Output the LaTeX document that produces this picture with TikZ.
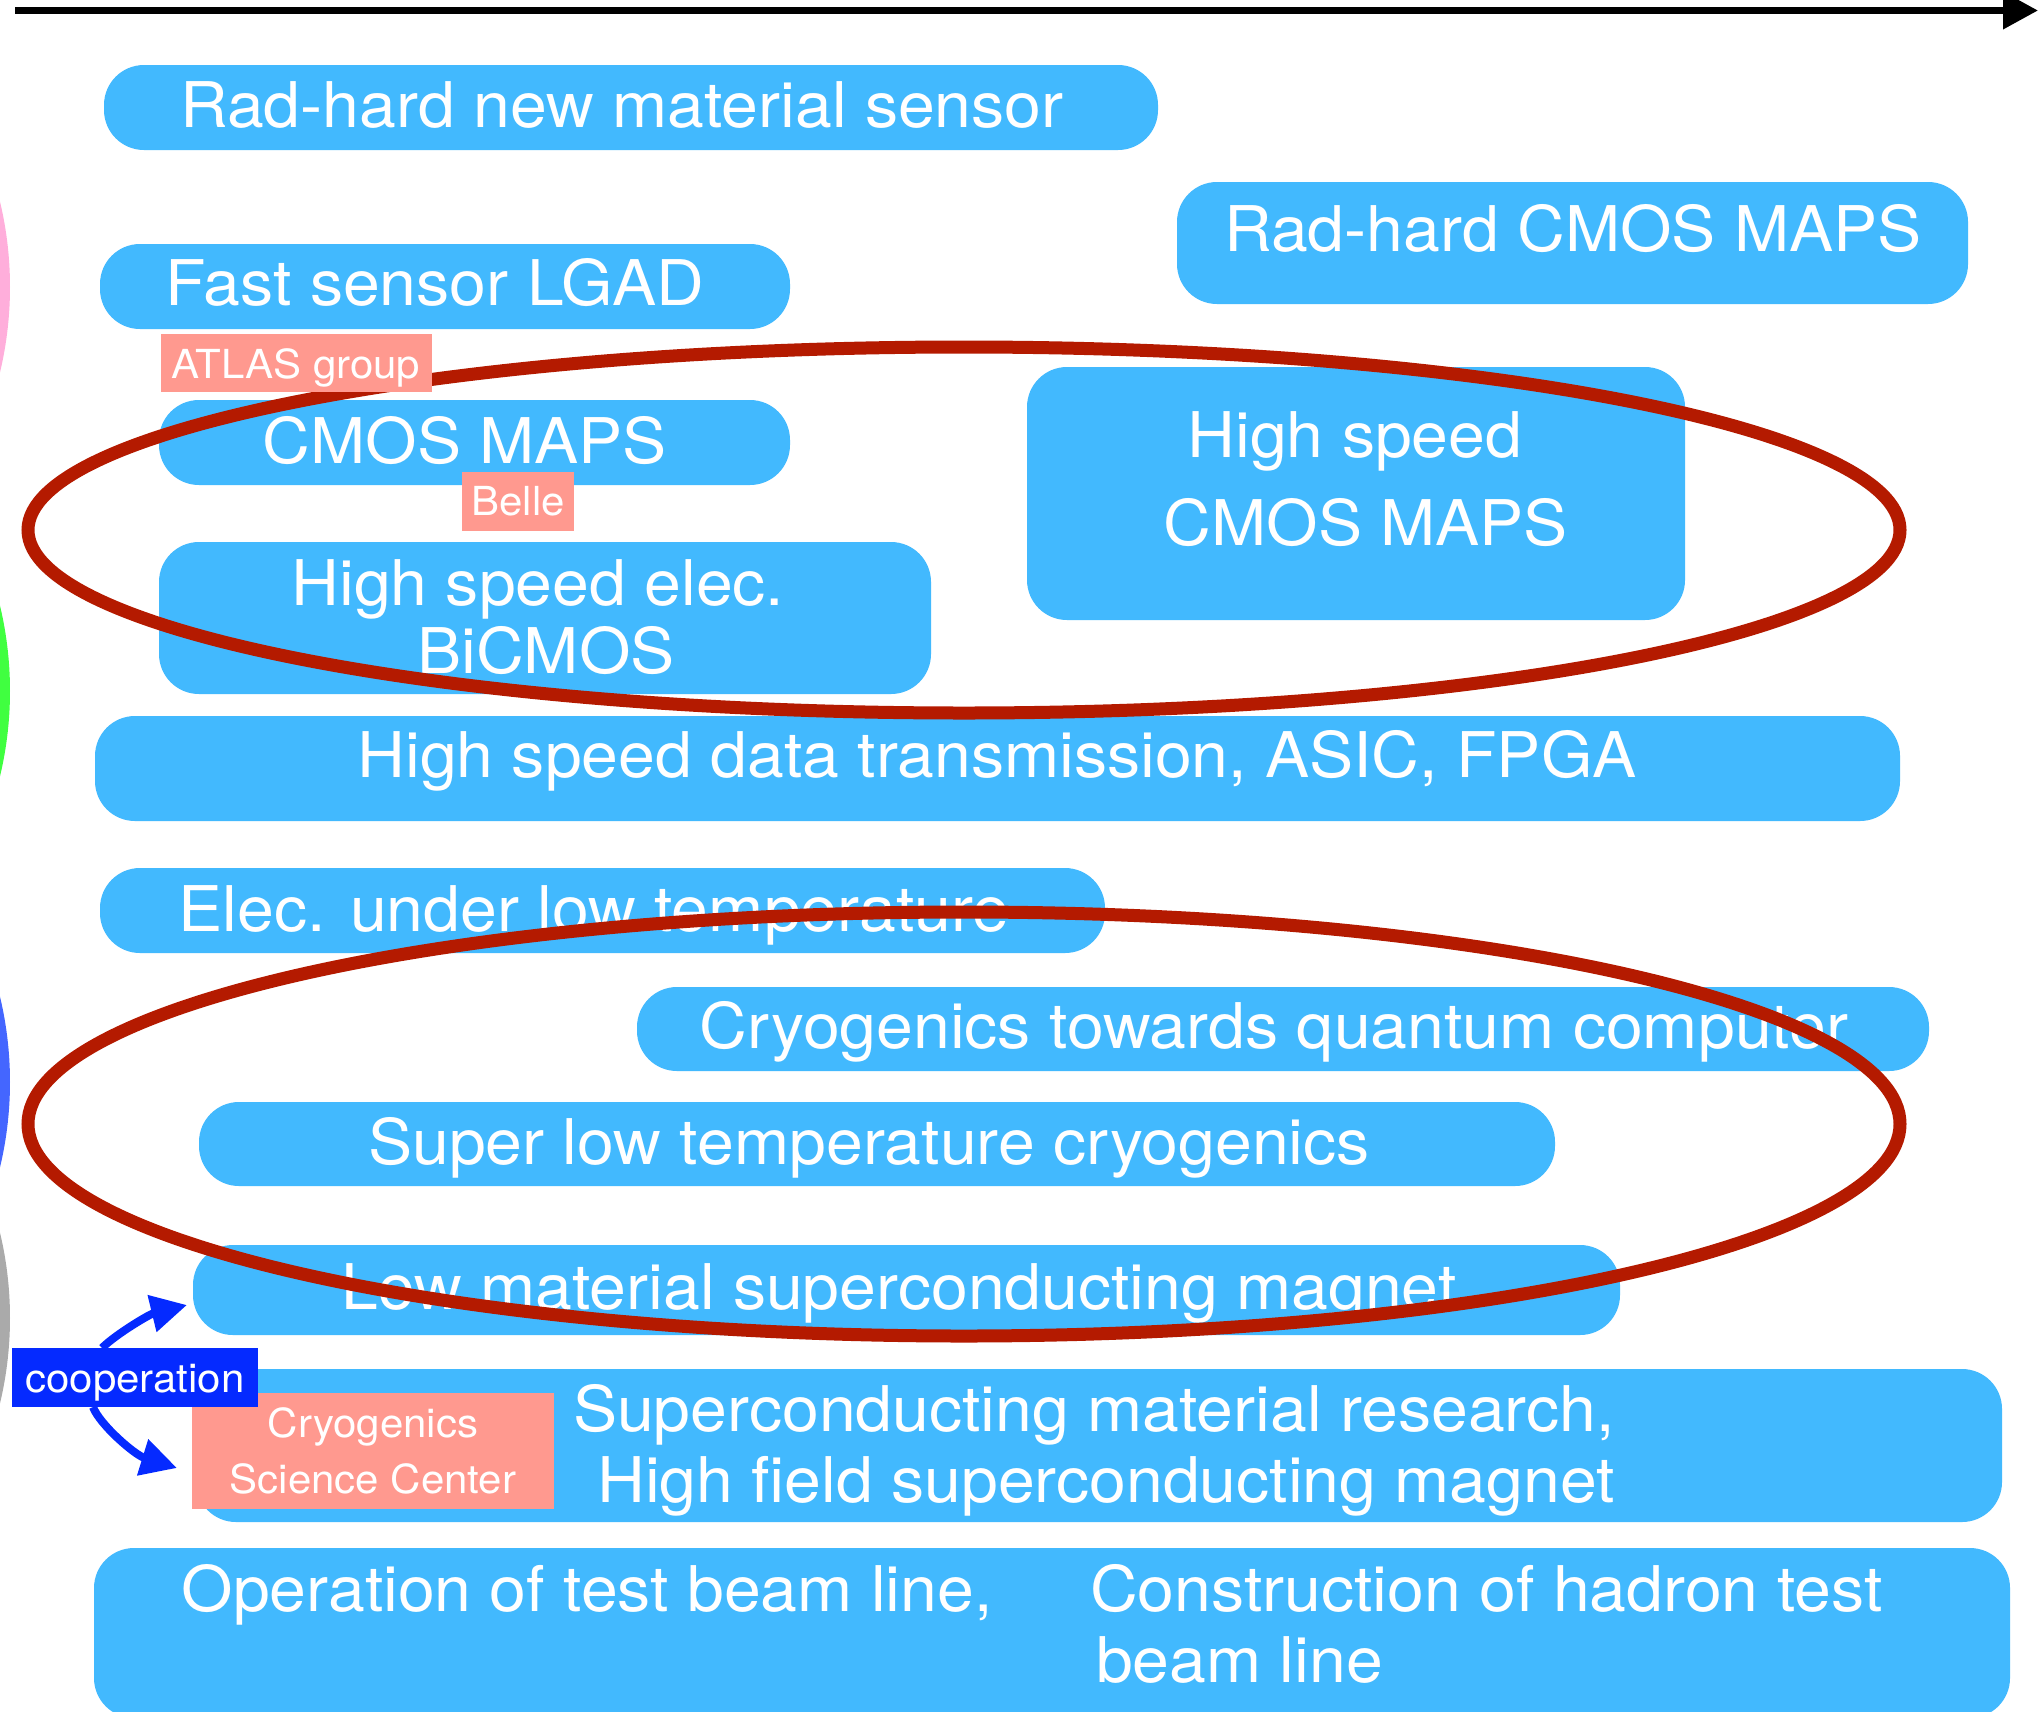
\documentclass[tikz,border=0pt]{standalone}
\usepackage{fontspec}
\setmainfont{TeX Gyre Heros}[FakeStretch=1.05]
\usetikzlibrary{arrows.meta}
\definecolor{boxblue}{RGB}{66,185,254}
\definecolor{tagsalmon}{RGB}{255,153,143}
\definecolor{coopblue}{RGB}{5,42,255}
\definecolor{ellred}{RGB}{180,26,0}
\definecolor{arcpink}{RGB}{255,174,219}
\definecolor{arcgreen}{RGB}{64,255,64}
\definecolor{arcblue}{RGB}{68,102,255}
\definecolor{arcgray}{RGB}{170,170,170}
\begin{document}
\begin{tikzpicture}[x=1pt,y=-1pt,
  box/.style={fill=boxblue, draw=none, rounded corners=40pt, anchor=north west, inner sep=0pt, outer sep=0pt},
  tag/.style={fill=tagsalmon, draw=none, anchor=north west, inner sep=0pt, outer sep=0pt},
  big/.style={text=white, font=\fontsize{63}{70}\selectfont, anchor=base, inner sep=0pt},
  small/.style={text=white, font=\fontsize{40}{48}\selectfont, anchor=base, inner sep=0pt},
  ring/.style={draw=ellred, line width=13pt},
  coopArrow/.style={draw=coopblue, line width=8pt, -{Triangle[length=36pt,width=36pt]}}
]
\clip (0,0) rectangle (2044,1711);
\fill[white] (0,0) rectangle (2044,1711);

% left coloured arcs
\fill[arcpink]  (-356,287)  circle[radius=366pt];
\fill[arcgreen] (-356,691)  circle[radius=366pt];
\fill[arcblue]  (-356,1082) circle[radius=366pt];
\fill[arcgray]  (-356,1318) circle[radius=366pt];

% time arrow
\coordinate (tl) at (15,10.5);
\coordinate (tr) at (2038,10.5);
\draw[line width=7pt, -{Triangle[length=35pt,width=36pt]}] (tl) -- (tr);

% boxes
\node[box, minimum width=1054pt, minimum height=85pt] (radnew) at (104,65) {};
\node[box, minimum width=791pt, minimum height=122pt] (radcmos) at (1177,182) {};
\node[box, minimum width=690pt, minimum height=85pt] (lgad) at (100,244) {};
\node[box, minimum width=631pt, minimum height=85pt] (cmos) at (159,400) {};
\node[box, minimum width=658pt, minimum height=253pt] (hscmos) at (1027,367) {};
\node[box, minimum width=772pt, minimum height=152pt] (bicmos) at (159,542) {};
\node[box, minimum width=1805pt, minimum height=105pt] (hsdata) at (95,716) {};
\node[box, minimum width=1005pt, minimum height=85pt] (elec) at (100,868) {};
\node[box, minimum width=1292pt, minimum height=84pt] (cryoq) at (637,987) {};
\node[box, minimum width=1356pt, minimum height=84pt] (superlow) at (199,1102) {};
\node[box, minimum width=1427pt, minimum height=90pt] (lowmat) at (193,1245) {};
\node[box, minimum width=1806pt, minimum height=153pt] (supercond) at (196,1369) {};
\node[box, minimum width=1916pt, minimum height=170pt] (operation) at (94,1548) {};

% texts
\node[big] (t1) at (622,127) {Rad-hard new material sensor};
\node[big] (t2) at (1573,251) {Rad-hard CMOS MAPS};
\node[big] (t3) at (435,305) {Fast sensor LGAD};
\node[big] (t4) at (465,463) {CMOS MAPS};
\node[big] (t5a) at (1355,457) {High speed};
\node[big] (t5b) at (1366,545) {CMOS MAPS};
\node[big] (t6a) at (538,605) {High speed elec.};
\node[big] (t6b) at (546,673) {BiCMOS};
\node[big] (t7) at (997,777) {High speed data transmission, ASIC, FPGA};
\node[big] (t8) at (594,931) {Elec. under low temperature};
\node[big] (t9) at (1274,1048) {Cryogenics towards quantum computer};
\node[big] (t10) at (869,1164) {Super low temperature cryogenics};
\node[big] (t11) at (899,1309) {Low material superconducting magnet};
\node[big, anchor=base east] (t12a) at (1615,1431) {Superconducting material research,};
\node[big, anchor=base east] (t12b) at (1615,1502) {High field superconducting magnet};
\node[big] (t13a) at (587,1611) {Operation of test beam line,};
\node[big, anchor=base west] (t13b) at (1090,1611) {Construction of hadron test};
\node[big, anchor=base west] (t13c) at (1096,1682) {beam line};

% red ellipses
\draw[ring] (964,530) ellipse[x radius=936pt, y radius=183pt];
\draw[ring] (964,1124) ellipse[x radius=936pt, y radius=212pt];

% tags
\node[tag, minimum width=271pt, minimum height=58pt] (atlas) at (161,334) {};
\node[small] (atlast) at (296,378) {ATLAS group};
\node[tag, minimum width=112pt, minimum height=59pt] (belle) at (462,472) {};
\node[small] (bellet) at (518,515) {Belle};
\node[tag, minimum width=362pt, minimum height=116pt] (cryosc) at (192,1393) {};
\node[small] (cryosct1) at (373,1437) {Cryogenics};
\node[small] (cryosct2) at (373,1493) {Science Center};
\node[fill=coopblue, anchor=north west, inner sep=0pt, minimum width=246pt, minimum height=59pt] (coop) at (12,1348) {};
\node[small] (coopt) at (135,1392) {cooperation};

% cooperation arrows
\coordinate (up1) at (102,1348);
\coordinate (up2) at (187,1305);
\coordinate (lo1) at (93,1407);
\coordinate (lo2) at (177,1468);
\draw[coopArrow] (up1) .. controls (116,1334) and (150,1314) .. (up2);
\draw[coopArrow] (lo1) .. controls (100,1425) and (135,1455) .. (lo2);
\end{tikzpicture}
\end{document}
